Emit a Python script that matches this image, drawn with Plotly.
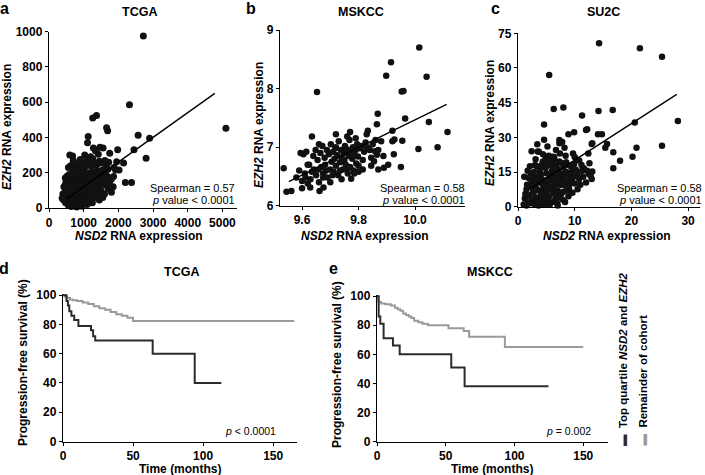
import plotly.graph_objects as go

# ---------------- DATA ----------------
# Panel a: TCGA scatter (NSD2 vs EZH2 RNA expression)
tcga_nsd2 = [
    2720, 2320, 1260, 1370, 1660, 1690, 2570, 2900, 5100, 2800,
    2450, 2200, 2380, 2150, 1980, 1950, 1860, 1800, 1130, 1110,
    1470, 1420, 1280, 1340, 1560, 1750, 2020, 1920, 1720, 600,
    680, 760, 1030, 1200, 1660, 1850, 1700, 1550, 1650, 470,
    560, 640, 700, 760, 820, 880, 940, 1010, 1090, 650,
    600, 720, 480, 420, 380, 450, 520, 400, 460, 530,
    590, 660, 730, 790, 850, 910, 980, 1050, 1120, 1190,
    1260, 1350, 1420, 1500, 1600, 1700, 430, 500, 560, 620,
    690, 750, 810, 870, 930, 990, 1060, 1130, 1200, 1270,
    1340, 1410, 1480, 1550, 1630, 1750, 480, 540, 600, 660,
    720, 780, 840, 900, 960, 1020, 1080, 1150, 1220, 1290,
    1360, 1430, 1510, 1580, 1680, 1800, 520, 580, 640, 700,
    760, 820, 880, 940, 1000, 1060, 1120, 1180, 1250, 1320,
    1390, 1460, 1540, 1620, 1700, 1880, 560, 620, 690, 750,
    820, 890, 950, 1010, 1080, 1150, 1230, 1300, 1380, 1450,
    1530, 1610, 1260, 1100, 900, 700, 650, 720, 800, 860,
    920, 980, 1040, 1100, 1180, 1240, 1300, 1380, 1000, 1150,
    1300, 850, 550, 1450, 1250, 800, 950, 1100, 1350, 700,
]
tcga_ezh2 = [
    975, 585, 510, 525, 455, 438, 412, 395, 452, 282,
    330, 145, 145, 255, 330, 262, 178, 90, 405, 370,
    345, 305, 340, 325, 340, 310, 215, 215, 260, 300,
    295, 250, 300, 290, 250, 120, 130, 60, 230, 170,
    15, 8, 22, 12, 30, 18, 35, 25, 40, 35,
    40, 45, 30, 45, 55, 60, 55, 80, 90, 75,
    70, 62, 68, 58, 72, 60, 70, 65, 75, 80,
    70, 90, 85, 95, 80, 110, 120, 110, 105, 98,
    110, 100, 115, 95, 105, 118, 100, 112, 105, 125,
    115, 130, 120, 130, 140, 150, 140, 150, 135, 145,
    160, 140, 155, 140, 165, 150, 145, 160, 150, 165,
    155, 170, 160, 175, 180, 165, 180, 190, 175, 200,
    185, 205, 180, 195, 210, 185, 200, 190, 205, 195,
    210, 200, 215, 205, 220, 230, 230, 240, 225, 245,
    235, 250, 230, 255, 240, 260, 235, 250, 245, 265,
    255, 270, 280, 275, 275, 270, 120, 130, 90, 130,
    170, 135, 120, 165, 130, 175, 140, 185, 90, 50,
    100, 45, 130, 45, 30, 5, 10, 20, 60, 85,
]
tcga_fit_x = [500, 4780]
tcga_fit_y = [50, 650]

# Panel b: MSKCC scatter
mskcc_nsd2 = [
    10.015, 9.915, 9.898, 10.041, 9.953, 9.959, 9.653, 9.868, 9.965, 10.049,
    10.115, 9.920, 9.927, 9.920, 9.833, 9.829, 9.865, 9.770, 10.012, 10.080,
    9.950, 9.955, 9.635, 9.535, 9.545, 9.562, 9.662, 9.676, 9.774, 9.629,
    9.865, 9.859, 9.888, 9.870, 9.845, 9.905, 9.925, 9.870, 9.660, 9.720,
    9.580, 9.590, 9.600, 9.605, 9.610, 9.615, 9.620, 9.625, 9.630, 9.640,
    9.642, 9.648, 9.650, 9.655, 9.660, 9.665, 9.668, 9.672, 9.675, 9.680,
    9.682, 9.688, 9.690, 9.695, 9.700, 9.702, 9.705, 9.710, 9.712, 9.715,
    9.718, 9.720, 9.725, 9.728, 9.730, 9.735, 9.738, 9.740, 9.745, 9.748,
    9.750, 9.752, 9.755, 9.760, 9.762, 9.765, 9.768, 9.770, 9.775, 9.778,
    9.780, 9.782, 9.785, 9.790, 9.792, 9.795, 9.798, 9.800, 9.805, 9.810,
    9.815, 9.820, 9.825, 9.830, 9.840, 9.850, 9.855, 9.860, 9.880, 9.890,
    9.600, 9.612, 9.635, 9.658, 9.685, 9.708, 9.735, 9.758, 9.785, 9.620,
    9.700, 9.740, 9.800, 9.845, 9.760, 9.675, 9.720, 9.790, 9.815, 9.595,
]
mskcc_ezh2 = [
    8.70, 8.45, 8.22, 8.20, 7.95, 7.96, 7.94, 7.57, 7.49, 7.43,
    7.26, 7.28, 7.13, 7.10, 7.28, 7.22, 7.39, 7.26, 6.97, 7.00,
    6.66, 7.11, 7.18, 6.64, 6.24, 6.25, 6.25, 6.31, 6.46, 6.31,
    6.87, 6.93, 6.85, 6.62, 6.68, 6.70, 6.88, 6.95, 7.05, 7.22,
    6.48, 6.60, 6.42, 6.88, 6.55, 6.92, 6.38, 6.70, 6.45, 6.85,
    6.62, 6.95, 6.52, 6.78, 6.40, 6.90, 6.66, 7.02, 6.55, 6.82,
    6.70, 6.95, 6.48, 6.88, 6.62, 7.05, 6.75, 6.92, 6.58, 6.80,
    6.98, 6.68, 6.86, 6.52, 7.10, 6.74, 6.95, 6.82, 6.62, 6.90,
    6.78, 7.02, 6.70, 6.96, 6.55, 6.85, 7.12, 6.66, 6.92, 6.80,
    7.00, 6.60, 6.88, 6.95, 6.72, 7.05, 6.84, 6.68, 6.98, 7.02,
    6.78, 6.92, 7.08, 7.00, 6.95, 7.05, 6.76, 7.12, 7.10, 6.65,
    6.30, 6.48, 6.58, 6.62, 6.60, 6.52, 6.60, 6.62, 6.55, 6.70,
    6.40, 6.45, 6.58, 6.82, 7.18, 6.48, 7.00, 7.15, 6.62, 6.90,
]
mskcc_fit_x = [9.553, 10.112]
mskcc_fit_y = [6.41, 7.73]

# Panel c: SU2C scatter
su2c_nsd2 = [
    14.3, 21.5, 25.4, 14.2, 16.7, 20.6, 28.2, 12.2, 14.1, 14.8,
    13.0, 15.7, 15.4, 25.4, 20.9, 16.8, 20.2, 18.0, 12.6, 16.8,
    12.2, 12.5, 13.0, 5.5, 6.3, 8.0, 4.6, 11.3, 8.9, 9.9,
    12.0, 7.3, 7.3, 13.1, 3.7, 4.4, 4.9, 6.1, 6.4, 7.8,
    8.5, 10.3, 13.1, 11.6, 3.5,
    1.0, 1.2, 1.5, 1.8, 2.0, 2.2, 2.5, 2.8, 3.0, 3.2,
    3.5, 3.8, 4.0, 4.2, 4.5, 4.8, 5.0, 5.2, 5.5, 5.8,
    6.0, 6.2, 6.5, 6.8, 7.0, 7.2, 7.5, 7.8, 8.0, 8.5,
    9.0, 9.5, 10.0, 10.5, 11.0, 1.5, 2.0, 2.5, 3.0, 3.5,
    4.0, 4.5, 5.0, 5.5, 6.0, 6.5, 7.0, 7.5, 8.0, 8.5,
    2.8, 3.3, 3.8, 4.3, 4.8, 5.3, 5.8, 6.3, 6.8, 7.3,
    1.3, 1.8, 2.3, 2.7, 3.6, 4.1, 4.6, 5.1, 5.6, 6.1,
    6.6, 7.1, 7.6, 8.1, 8.6, 9.1, 9.6, 10.2, 10.8, 11.5,
    2.1, 3.1, 4.4, 5.4, 6.4, 7.4, 8.4, 9.3, 12.0, 12.8,
    3.9, 4.9, 5.9, 6.9, 7.9, 8.9, 9.9, 2.4, 1.1, 11.2,
    5.2, 6.7, 8.2, 9.7, 10.8, 4.6, 3.4, 7.8, 12.4, 9.2,
    1.6, 2.6, 3.7, 4.7, 5.7, 6.7, 7.7, 8.7, 9.4, 2.2,
    3.2, 4.2, 5.2, 6.2, 7.2, 8.2, 2.9, 3.9, 4.9, 5.9,
    6.9, 7.9, 5.6, 6.4, 4.3, 3.5, 1.7, 2.4, 5.0, 7.0,
    8.3, 9.0, 9.8, 10.5, 11.3, 6.0, 4.0, 3.0, 8.8, 10.0,
]
su2c_ezh2 = [
    70.7, 68.5, 64.9, 41.4, 41.8, 36.4, 37.1, 33.5, 31.3, 31.3,
    27.1, 27.1, 25.5, 26.4, 25.5, 23.5, 21.6, 19.9, 18.8, 16.6,
    15.6, 14.1, 12.0, 57.0, 42.3, 42.9, 35.6, 39.4, 31.3, 32.2,
    33.2, 28.9, 27.4, 27.4, 23.8, 22.7, 21.2, 21.6, 20.2, 18.8,
    19.2, 20.5, 15.2, 16.6, 23.9,
    1.0, 3.5, 0.5, 2.0, 5.0, 1.5, 3.0, 6.5, 0.8, 4.0,
    2.5, 7.0, 5.0, 1.2, 8.5, 3.5, 6.0, 10.0, 4.5, 7.5,
    2.0, 9.0, 5.5, 11.5, 7.0, 4.0, 9.5, 12.5, 6.5, 10.5,
    8.0, 12.0, 10.0, 14.0, 9.5, 7.5, 9.0, 11.0, 12.5, 10.5,
    13.5, 11.5, 14.5, 12.5, 15.5, 13.0, 16.0, 14.5, 17.0, 15.0,
    15.0, 17.5, 16.5, 18.5, 17.0, 19.0, 18.0, 20.0, 17.5, 19.5,
    5.5, 12.5, 14.0, 8.0, 0.5, 3.0, 1.0, 2.5, 0.8, 6.8,
    3.5, 12.0, 5.5, 14.0, 8.5, 13.5, 6.0, 16.0, 12.0, 13.0,
    17.5, 20.5, 19.5, 22.0, 21.5, 23.0, 22.0, 17.5, 10.5, 13.5,
    2.0, 4.5, 8.5, 1.5, 3.0, 4.5, 18.5, 24.0, 13.0, 18.0,
    26.0, 24.5, 25.5, 23.0, 20.0, 29.0, 27.0, 28.0, 23.0, 10.0,
    9.5, 6.0, 11.0, 6.5, 12.0, 9.5, 11.0, 7.0, 15.0, 12.0,
    8.0, 10.0, 7.5, 11.0, 14.0, 12.0, 10.0, 15.0, 17.0, 14.0,
    12.5, 9.5, 20.5, 17.5, 6.0, 13.0, 15.5, 3.0, 1.5, 0.5,
    2.0, 11.0, 13.0, 7.5, 15.5, 19.0, 17.5, 18.0, 18.0, 21.5,
]
su2c_fit_x = [2.0, 28.0]
su2c_fit_y = [7.5, 48.6]

# Panel d: TCGA Kaplan-Meier
tcga_top_t = [0, 2.5, 3.5, 4.5, 6, 8, 11, 20, 21.5, 23, 64, 94, 113]
tcga_top_s = [100, 96, 93, 89, 86, 83, 79, 76, 72, 69, 60, 40, 40]
tcga_rest_t = [0, 1.5, 3, 5, 7, 10, 14, 18, 22, 26, 30, 34, 38, 42, 46, 50, 165]
tcga_rest_s = [100, 99, 98, 97, 96.5, 96, 95, 94, 92.5, 91, 90, 88.5, 87, 86, 84.5, 82.3, 82.3]

# Panel e: MSKCC Kaplan-Meier
mskcc_top_t = [0, 1.2, 2.4, 4.8, 11.6, 16.5, 54, 63.7, 124.7]
mskcc_top_s = [100, 86, 81, 71, 66, 60, 51, 38, 38]
mskcc_rest_t = [0, 1, 3, 6, 10, 13, 15, 17, 19, 21, 23, 25, 27, 30, 33, 37, 52, 63, 67, 93, 150]
mskcc_rest_s = [100, 96, 95, 94.5, 93.5, 92, 91, 90, 88, 87, 86, 85, 83, 82, 81, 80, 78, 76, 72, 65, 65]

# Tick labels
a_xticks = [0, 1000, 2000, 3000, 4000, 5000]
a_yticks = [0, 200, 400, 600, 800, 1000]
b_xticks = [9.6, 9.8, 10.0]
b_yticks = [6, 7, 8, 9]
c_xticks = [0, 10, 20, 30]
c_yticks = [0, 15, 30, 45, 60, 75]
km_xticks = [0, 50, 100, 150]
km_yticks = [0, 20, 40, 60, 80, 100]

# ---------------- STYLE ----------------
W, H = 705, 475
FONT = "Liberation Sans, Arial, sans-serif"
DOT = "#111111"
TOP_COL = "#2b2b2b"
REST_COL = "#9a9a9a"


def dx(px):
    return px / W


def dy(py):
    return 1 - py / H


def axis(dom, rng, ticks, fmt=None):
    d = dict(
        domain=dom, range=rng, tickvals=ticks,
        showline=True, linecolor="black", linewidth=1.4,
        ticks="outside", ticklen=3, tickwidth=1.4, tickcolor="black",
        showgrid=False, zeroline=False, fixedrange=True,
        tickfont=dict(family=FONT, size=12, color="black", weight="bold"),
        automargin=False,
    )
    if fmt:
        d["tickformat"] = fmt
    return d


fig = go.Figure()


def scatter(x, y, fx, fy, xa, ya, size):
    fig.add_trace(go.Scatter(x=x, y=y, mode="markers", xaxis=xa, yaxis=ya,
                             marker=dict(color=DOT, size=size, line=dict(width=0)),
                             cliponaxis=False, showlegend=False))
    fig.add_trace(go.Scatter(x=fx, y=fy, mode="lines", xaxis=xa, yaxis=ya,
                             line=dict(color="black", width=1.4),
                             showlegend=False))


scatter(tcga_nsd2, tcga_ezh2, tcga_fit_x, tcga_fit_y, "x", "y", 7)
scatter(mskcc_nsd2, mskcc_ezh2, mskcc_fit_x, mskcc_fit_y, "x2", "y2", 6.5)
scatter(su2c_nsd2, su2c_ezh2, su2c_fit_x, su2c_fit_y, "x3", "y3", 6.5)


def km(t, s, xa, ya, col):
    fig.add_trace(go.Scatter(x=t, y=s, mode="lines", xaxis=xa, yaxis=ya,
                             line=dict(color=col, width=2, shape="hv"),
                             showlegend=False))


km(tcga_rest_t, tcga_rest_s, "x4", "y4", REST_COL)
km(tcga_top_t, tcga_top_s, "x4", "y4", TOP_COL)
km(mskcc_rest_t, mskcc_rest_s, "x5", "y5", REST_COL)
km(mskcc_top_t, mskcc_top_s, "x5", "y5", TOP_COL)

layout = dict(
    width=W, height=H, margin=dict(l=0, r=0, t=0, b=0),
    paper_bgcolor="white", plot_bgcolor="white",
    font=dict(family=FONT, color="black"),
    xaxis=axis([dx(49), dx(237)], [0, 5420], a_xticks),
    yaxis=axis([dy(208), dy(31.7)], [0, 1000], a_yticks),
    xaxis2=axis([dx(280), dx(465)], [9.522, 10.177], b_xticks, ".1f"),
    yaxis2=axis([dy(205.7), dy(30)], [6, 9], b_yticks),
    xaxis3=axis([dx(518), dx(700)], [0, 32.1], c_xticks),
    yaxis3=axis([dy(206.7), dy(33.3)], [0, 75], c_yticks),
    xaxis4=axis([dx(63), dx(297)], [0, 167], km_xticks),
    yaxis4=axis([dy(441.5), dy(294)], [0, 100.8], km_yticks),
    xaxis5=axis([dx(377), dx(608)], [0, 168], km_xticks),
    yaxis5=axis([dy(441.5), dy(295)], [0, 100.8], km_yticks),
)
for i in range(1, 6):
    sx = "" if i == 1 else str(i)
    layout["xaxis" + sx]["anchor"] = "y" + sx
    layout["yaxis" + sx]["anchor"] = "x" + sx
fig.update_layout(**layout)

ann = []


def text(px, py, s, size, bold=True, xanchor="center", yanchor="middle", angle=0):
    ann.append(dict(x=dx(px), y=dy(py), xref="paper", yref="paper", text=s,
                    showarrow=False, xanchor=xanchor, yanchor=yanchor, textangle=angle,
                    font=dict(family=FONT, size=size, color="black",
                              weight="bold" if bold else "normal")))


# panel letters
text(4, 9, "a", 16)
text(251, 9, "b", 16)
text(495, 9, "c", 16)
text(4, 268, "d", 16)
text(333, 268, "e", 16)
# titles
text(139.5, 12, "TCGA", 12.5)
text(361, 12, "MSKCC", 12.5)
text(603, 12, "SU2C", 12.5)
text(181, 272, "TCGA", 12.5)
text(490, 272, "MSKCC", 12.5)
# axis titles
xt_ns = "<i>NSD2</i> RNA expression"
yt_ez = "<i>EZH2</i> RNA expression"
yt_pfs = "Progression-free survival (%)"
xt_time = "Time (months)"
text(139, 236, xt_ns, 12)
text(365, 236, xt_ns, 12)
text(607, 236, xt_ns, 12)
text(180, 468.5, xt_time, 12)
text(492, 468.5, xt_time, 12)
text(7, 127, yt_ez, 12, angle=-90)
text(259, 125, yt_ez, 12, angle=-90)
text(490, 123, yt_ez, 12, angle=-90)
text(23, 363, yt_pfs, 12, angle=-90)
text(337, 365, yt_pfs, 12, angle=-90)
# statistics
for rx, rho in [(237, "0.57"), (467, "0.58"), (704, "0.58")]:
    text(rx, 188, "Spearman = " + rho, 11, bold=False, xanchor="right")
    text(rx, 200, "<i>p</i> value < 0.0001", 11, bold=False, xanchor="right")
text(278, 431, "<i>p</i> < 0.0001", 10.5, bold=False, xanchor="right")
text(593, 431, "<i>p</i> = 0.002", 10.5, bold=False, xanchor="right")
# legend (rotated)
text(623, 448, "<span style='color:%s'>▬</span>  Top quartile <i>NSD2</i> and <i>EZH2</i>" % TOP_COL,
     11.5, yanchor="bottom", angle=-90)
text(642, 448, "<span style='color:%s'>▬</span>  Remainder of cohort" % REST_COL,
     11.5, yanchor="bottom", angle=-90)

fig.update_layout(annotations=ann)
fig.write_html("out.html", config={"displayModeBar": False},
               post_script="document.body.style.margin='0';document.body.style.padding='0';")
